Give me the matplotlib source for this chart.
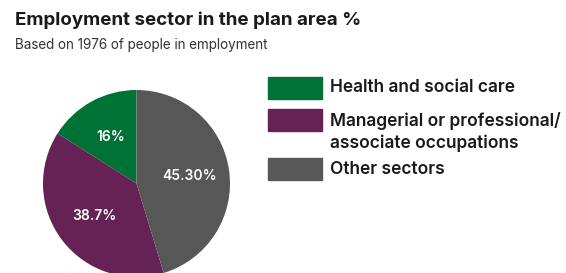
import numpy as np
import matplotlib.pyplot as plt
from matplotlib.patches import Rectangle

sectors = ['Health and social care', 'Managerial or professional/\nassociate occupations', 'Other sectors']
shares = [16, 38.7, 45.3]
slice_labels = ['16%', '38.7%', '45.30%']
colors = ['#007236', '#662254', '#575757']

plt.rcParams['font.family'] = ['Inter', 'DejaVu Sans']

W, H = 566, 273
fig = plt.figure(figsize=(W / 100, H / 100), dpi=100)

cx, cy, r = 136.5, 183.5, 93.5
ax = fig.add_axes([(cx - r) / W, (H - cy - r) / H, 2 * r / W, 2 * r / H])
wedges, texts = ax.pie(shares, colors=colors, startangle=90, counterclock=True,
                       labels=slice_labels, labeldistance=0.57, radius=1,
                       wedgeprops=dict(linewidth=0),
                       textprops=dict(color='white', fontsize=10, fontweight='semibold',
                                      ha='center', va='center'))
ax.set_xlim(-1, 1)
ax.set_ylim(-1, 1)
ax.set_aspect('auto')
ax.axis('off')

fig.text(15 / W, 1 - 20 / H, 'Employment sector in the plan area %', fontsize=13.5,
         fontweight='bold', color='#1a1a1a', va='center', ha='left')
fig.text(15 / W, 1 - 45 / H, 'Based on 1976 of people in employment', fontsize=9.7,
         color='#333333', va='center', ha='left')

# legend
box_x, box_w, box_h = 268, 54, 22
for top, c in zip([77, 109, 158], colors):
    fig.patches.append(Rectangle((box_x / W, 1 - (top + box_h) / H), box_w / W, box_h / H,
                                 transform=fig.transFigure, color=c))
for name, y in zip(sectors, [88, 132, 170]):
    fig.text(330 / W, 1 - y / H, name, fontsize=12.5, fontweight='semibold',
             color='#1a1a1a', va='center', ha='left', linespacing=1.3)

fig.savefig('out.png', dpi=100)
